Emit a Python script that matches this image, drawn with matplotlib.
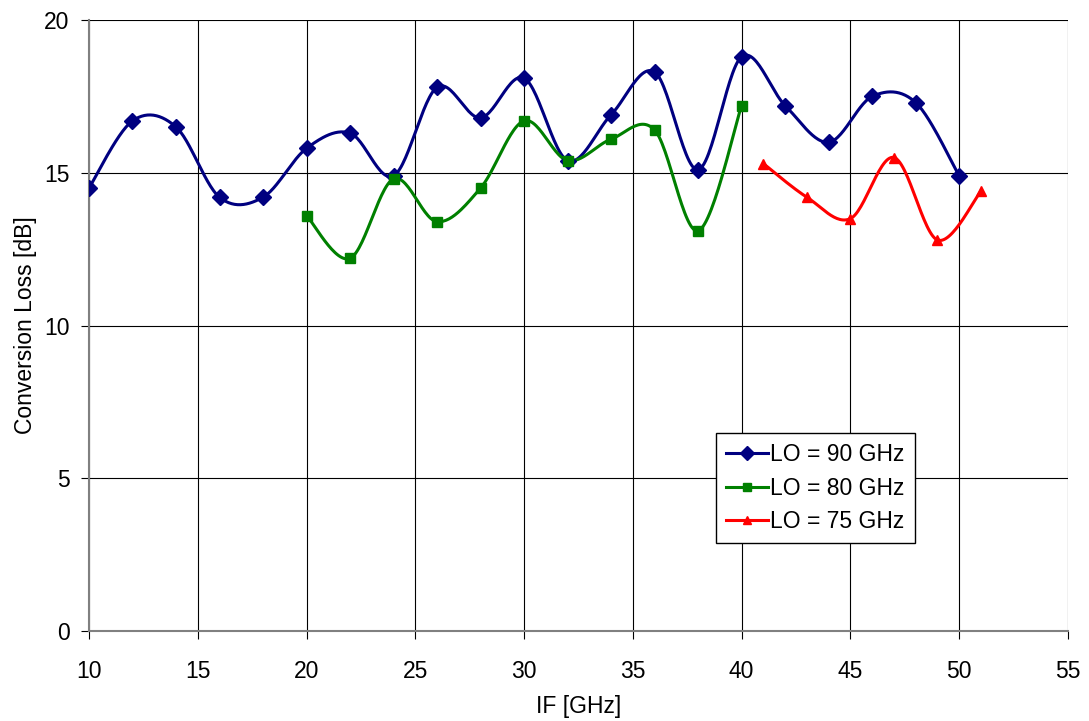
import numpy as np
import matplotlib.pyplot as plt

plt.rcParams['font.family'] = ['Liberation Sans', 'DejaVu Sans']

# LO = 90 GHz
if90 = [10, 12, 14, 16, 18, 20, 22, 24, 26, 28, 30, 32, 34, 36, 38, 40, 42, 44, 46, 48, 50]
cl90 = [14.5, 16.7, 16.5, 14.2, 14.2, 15.8, 16.3, 14.9, 17.8, 16.8, 18.1, 15.4, 16.9, 18.3,
        15.1, 18.8, 17.2, 16.0, 17.5, 17.3, 14.9]
# LO = 80 GHz
if80 = [20, 22, 24, 26, 28, 30, 32, 34, 36, 38, 40]
cl80 = [13.6, 12.2, 14.8, 13.4, 14.5, 16.7, 15.4, 16.1, 16.4, 13.1, 17.2]
# LO = 75 GHz
if75 = [41, 43, 45, 47, 49, 51]
cl75 = [15.3, 14.2, 13.5, 15.5, 12.8, 14.4]


def smooth(x, y, n=30):
    # catmull-rom style bezier, close to excel's smoothed line
    x = np.asarray(x, float)
    y = np.asarray(y, float)
    px = np.concatenate([[x[0]], x, [x[-1]]])
    py = np.concatenate([[y[0]], y, [y[-1]]])
    t = np.linspace(0, 1, n)[:, None]
    xs, ys = [], []
    for i in range(1, len(px) - 2):
        p0 = np.array([px[i], py[i]])
        p3 = np.array([px[i + 1], py[i + 1]])
        c1 = p0 + (p3 - np.array([px[i - 1], py[i - 1]])) / 6
        c2 = p3 - (np.array([px[i + 2], py[i + 2]]) - p0) / 6
        b = ((1 - t) ** 3) * p0 + 3 * ((1 - t) ** 2) * t * c1 + 3 * (1 - t) * t ** 2 * c2 + t ** 3 * p3
        xs.append(b[:, 0])
        ys.append(b[:, 1])
    return np.concatenate(xs), np.concatenate(ys)


fig = plt.figure(figsize=(10.89, 7.21), dpi=100)
ax = fig.add_axes([0.0817, 0.1248, 0.899, 0.8474])

series = [
    (if90, cl90, '#000080', 'D', 8, 'LO = 90 GHz'),
    (if80, cl80, '#008000', 's', 7, 'LO = 80 GHz'),
    (if75, cl75, '#ff0000', '^', 7, 'LO = 75 GHz'),
]
for x, y, c, m, ms, lab in series:
    sx, sy = smooth(x, y)
    ax.plot(sx, sy, color=c, lw=2.2, zorder=3)
    ax.plot(x, y, ls='none', marker=m, color=c, ms=ms, zorder=4)
    ax.plot([], [], color=c, lw=2.2, marker=m, ms=ms - 1, label=lab)

fs = 16.5
ax.set_xlim(10, 55)
ax.set_ylim(0, 20)
ax.set_xticks(range(10, 56, 5))
ax.set_yticks(range(0, 21, 5))
ax.grid(True, color='black', lw=0.8)
ax.set_axisbelow(True)
for s in ax.spines.values():
    s.set_visible(False)
for side in ['left', 'bottom']:
    ax.spines[side].set_visible(True)
    ax.spines[side].set_color('#808080')
    ax.spines[side].set_linewidth(1.5)
ax.tick_params(direction='out', length=6, width=0.8, labelsize=fs)
ax.tick_params(axis='x', pad=15)
ax.tick_params(axis='y', pad=8)
ax.set_xlabel('IF [GHz]', fontsize=fs, labelpad=8.5)
ax.set_ylabel('Conversion Loss [dB]', fontsize=fs, labelpad=5)

leg = ax.legend(loc='upper left', bbox_to_anchor=(0.6405, 0.324), borderaxespad=0,
                fontsize=fs, fancybox=False, edgecolor='black', framealpha=1,
                handlelength=1.8, handletextpad=0.1, labelspacing=0.45, borderpad=0.45)
leg.get_frame().set_linewidth(1.0)

fig.savefig('out.png', dpi=100)
